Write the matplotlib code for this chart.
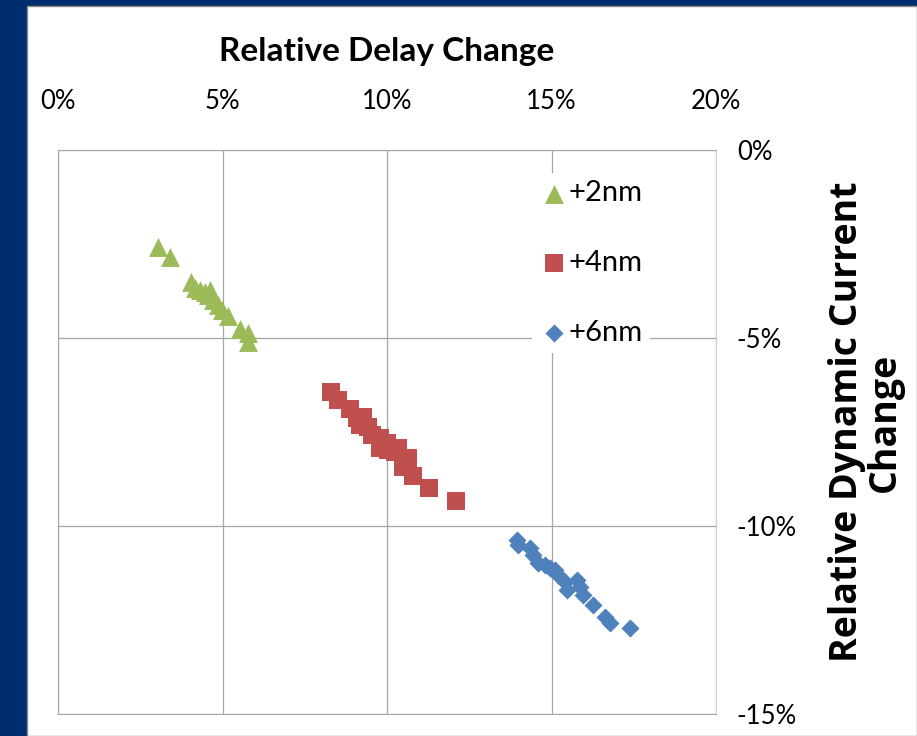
import matplotlib.pyplot as plt
from matplotlib.patches import Rectangle
from matplotlib.ticker import FuncFormatter

# relative delay change (%) vs relative dynamic current change (%)
x_2nm = [3.04, 3.40, 4.04, 4.16, 4.32, 4.47, 4.56, 4.62, 4.71, 4.86, 4.98, 5.17, 5.53, 5.78, 5.78]
y_2nm = [-2.58, -2.85, -3.51, -3.67, -3.72, -3.78, -3.86, -3.72, -3.99, -4.12, -4.26, -4.41, -4.76, -4.87, -5.11]

x_4nm = [8.30, 8.51, 8.88, 9.09, 9.27, 9.18, 9.42, 9.54, 9.79, 9.79, 10.00, 10.03, 10.24, 10.33,
         10.64, 10.49, 10.79, 11.28, 12.10]
y_4nm = [-6.44, -6.65, -6.89, -7.13, -7.10, -7.31, -7.37, -7.58, -7.66, -7.93, -7.79, -7.98, -8.03, -7.93,
         -8.19, -8.43, -8.67, -8.99, -9.34]

x_6nm = [13.95, 13.98, 14.35, 14.44, 14.59, 14.80, 14.95, 15.11, 15.20, 15.41, 15.47, 15.78, 15.87,
         15.96, 16.26, 16.63, 16.78, 17.39]
y_6nm = [-10.37, -10.51, -10.59, -10.77, -10.98, -11.04, -11.12, -11.17, -11.30, -11.49, -11.70, -11.44,
         -11.62, -11.84, -12.10, -12.42, -12.58, -12.71]

labels = ["+2nm", "+4nm", "+6nm"]
x_ticks = [0, 5, 10, 15, 20]
y_ticks = [0, -5, -10, -15]

W, H = 917, 736
fig = plt.figure(figsize=(W / 100, H / 100), dpi=100)
fig.patch.set_facecolor("#002d6e")
fig.patches.append(Rectangle((27 / W, 0), 1 - 27 / W, 1 - 6 / H, transform=fig.transFigure,
                             facecolor="white", edgecolor="#8c8c8c", linewidth=1.0, zorder=-5))

ax = fig.add_axes([58 / W, 1 - 714 / H, (716 - 58) / W, (714 - 150) / H])
ax.set_zorder(2)
ax.set_xlim(0, 20)
ax.set_ylim(-15, 0)
ax.set_xticks(x_ticks)
ax.set_yticks(y_ticks)
pct = FuncFormatter(lambda v, p: f"{v:.0f}%")
ax.xaxis.set_major_formatter(pct)
ax.yaxis.set_major_formatter(pct)
ax.xaxis.tick_top()
ax.yaxis.tick_right()
ax.tick_params(axis="x", length=0, pad=26, labelsize=18.5)
ax.tick_params(axis="y", length=0, pad=15, labelsize=18.5)
for lab in ax.get_xticklabels() + ax.get_yticklabels():
    lab.set_fontfamily("Lato")
for lab in ax.get_yticklabels():
    lab.set_horizontalalignment("left")
ax.grid(True, color="#a6a6a6", linewidth=0.9)
ax.set_axisbelow(True)
for side in ["left", "bottom", "top"]:
    ax.spines[side].set_color("#a6a6a6")
ax.spines["right"].set_color("#d0d0d0")

s1 = ax.scatter(x_2nm, y_2nm, marker="^", s=185, color="#9bbb59", linewidths=0, zorder=3)
s2 = ax.scatter(x_4nm, y_4nm, marker="s", s=150, color="#c0504d", linewidths=0, zorder=3)
s3 = ax.scatter(x_6nm, y_6nm, marker="D", s=85, color="#4f81bd", linewidths=0, zorder=3)

leg = ax.legend([s1, s2, s3], labels, loc="upper left", bbox_to_anchor=(0.698, 0.985),
                frameon=True, facecolor="white", edgecolor="none", framealpha=1,
                fancybox=False, labelspacing=1.5, handletextpad=0.0, handlelength=1.0,
                borderpad=0.25, prop={"family": "Lato", "size": 21})

fig.text(387 / W, 1 - 52 / H, "Relative Delay Change", ha="center", va="center",
         fontsize=24, fontweight="bold", family="Lato")
fig.text(866 / W, 1 - 422 / H, "Relative Dynamic Current\nChange", ha="center", va="center",
         rotation=90, fontsize=27, fontweight="bold", family="Open Sans", linespacing=1.0)

fig.savefig("out.png", dpi=100)
